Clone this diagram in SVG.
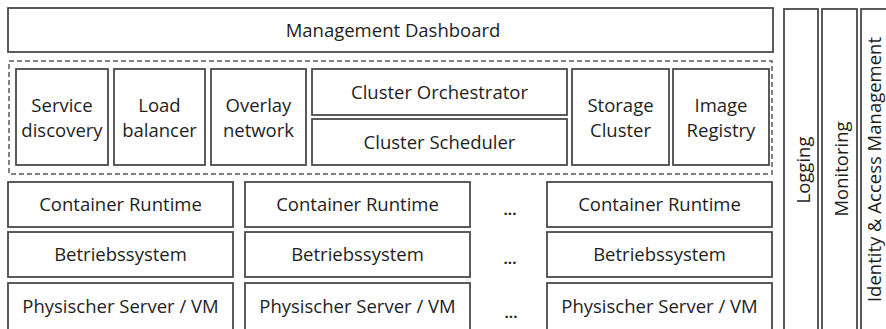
<svg xmlns="http://www.w3.org/2000/svg" width="886" height="329" viewBox="0 0 886 329">
<style>
.box{fill:#fff;stroke:#4a4a4a;stroke-width:1.8}
.dash{fill:none;stroke:#5a5a5a;stroke-width:1.5;stroke-dasharray:5 3}
text{font-family:"Open Sans","Noto Sans","Liberation Sans",sans-serif;font-size:18.5px;fill:#1e1e1e;text-anchor:middle}
.dots{font-size:15px;font-weight:bold}
</style>
<rect x="0" y="0" width="886" height="329" fill="#fff"/>
<g id="management-dashboard"><rect class="box" x="8" y="8" width="765" height="44"/><text x="393" y="37">Management Dashboard</text></g>
<g id="orchestration-layer"><rect class="dash" x="9" y="61" width="763" height="113"/></g>
<g id="service-discovery"><rect class="box" x="16" y="69" width="92" height="96"/><text x="62" y="112">Service</text><text x="62" y="137">discovery</text></g>
<g id="load-balancer"><rect class="box" x="114" y="69" width="91" height="96"/><text x="159.5" y="112">Load</text><text x="159.5" y="137">balancer</text></g>
<g id="overlay-network"><rect class="box" x="211" y="69" width="95" height="96"/><text x="258.5" y="112">Overlay</text><text x="258.5" y="137">network</text></g>
<g id="cluster-orchestrator"><rect class="box" x="312" y="69" width="255" height="46"/><text x="439.5" y="98.5">Cluster Orchestrator</text></g>
<g id="cluster-scheduler"><rect class="box" x="312" y="119" width="255" height="46"/><text x="439.5" y="148.5">Cluster Scheduler</text></g>
<g id="storage-cluster"><rect class="box" x="572" y="69" width="97" height="96"/><text x="620.5" y="112">Storage</text><text x="620.5" y="137">Cluster</text></g>
<g id="image-registry"><rect class="box" x="673" y="69" width="96" height="96"/><text x="721" y="112">Image</text><text x="721" y="137">Registry</text></g>
<g id="runtime-1"><rect class="box" x="8" y="182" width="225" height="45"/><text x="120.5" y="211">Container Runtime</text></g>
<g id="os-1"><rect class="box" x="8" y="232" width="225" height="45"/><text x="120.5" y="261">Betriebssystem</text></g>
<g id="server-1"><rect class="box" x="8" y="283" width="225" height="50"/><text x="120.5" y="313">Physischer Server / VM</text></g>
<g id="runtime-2"><rect class="box" x="245" y="182" width="225" height="45"/><text x="357.5" y="211">Container Runtime</text></g>
<g id="os-2"><rect class="box" x="245" y="232" width="225" height="45"/><text x="357.5" y="261">Betriebssystem</text></g>
<g id="server-2"><rect class="box" x="245" y="283" width="225" height="50"/><text x="357.5" y="313">Physischer Server / VM</text></g>
<g id="ellipsis"><text class="dots" x="510" y="215">...</text><text class="dots" x="510" y="264">...</text><text class="dots" x="511" y="318">...</text></g>
<g id="runtime-n"><rect class="box" x="547" y="182" width="225" height="45"/><text x="659.5" y="211">Container Runtime</text></g>
<g id="os-n"><rect class="box" x="547" y="232" width="225" height="45"/><text x="659.5" y="261">Betriebssystem</text></g>
<g id="server-n"><rect class="box" x="547" y="283" width="225" height="50"/><text x="659.5" y="313">Physischer Server / VM</text></g>
<g id="logging"><rect class="box" x="784" y="9" width="34" height="330"/><text transform="translate(810 170) rotate(-90)">Logging</text></g>
<g id="monitoring"><rect class="box" x="822" y="9" width="35" height="330"/><text transform="translate(848 169) rotate(-90)">Monitoring</text></g>
<g id="identity-access-management"><rect class="box" x="861" y="9" width="40" height="330"/><text transform="translate(880.5 169.5) rotate(-90)">Identity &amp; Access Management</text></g>
<g id="connectors"/>
</svg>
